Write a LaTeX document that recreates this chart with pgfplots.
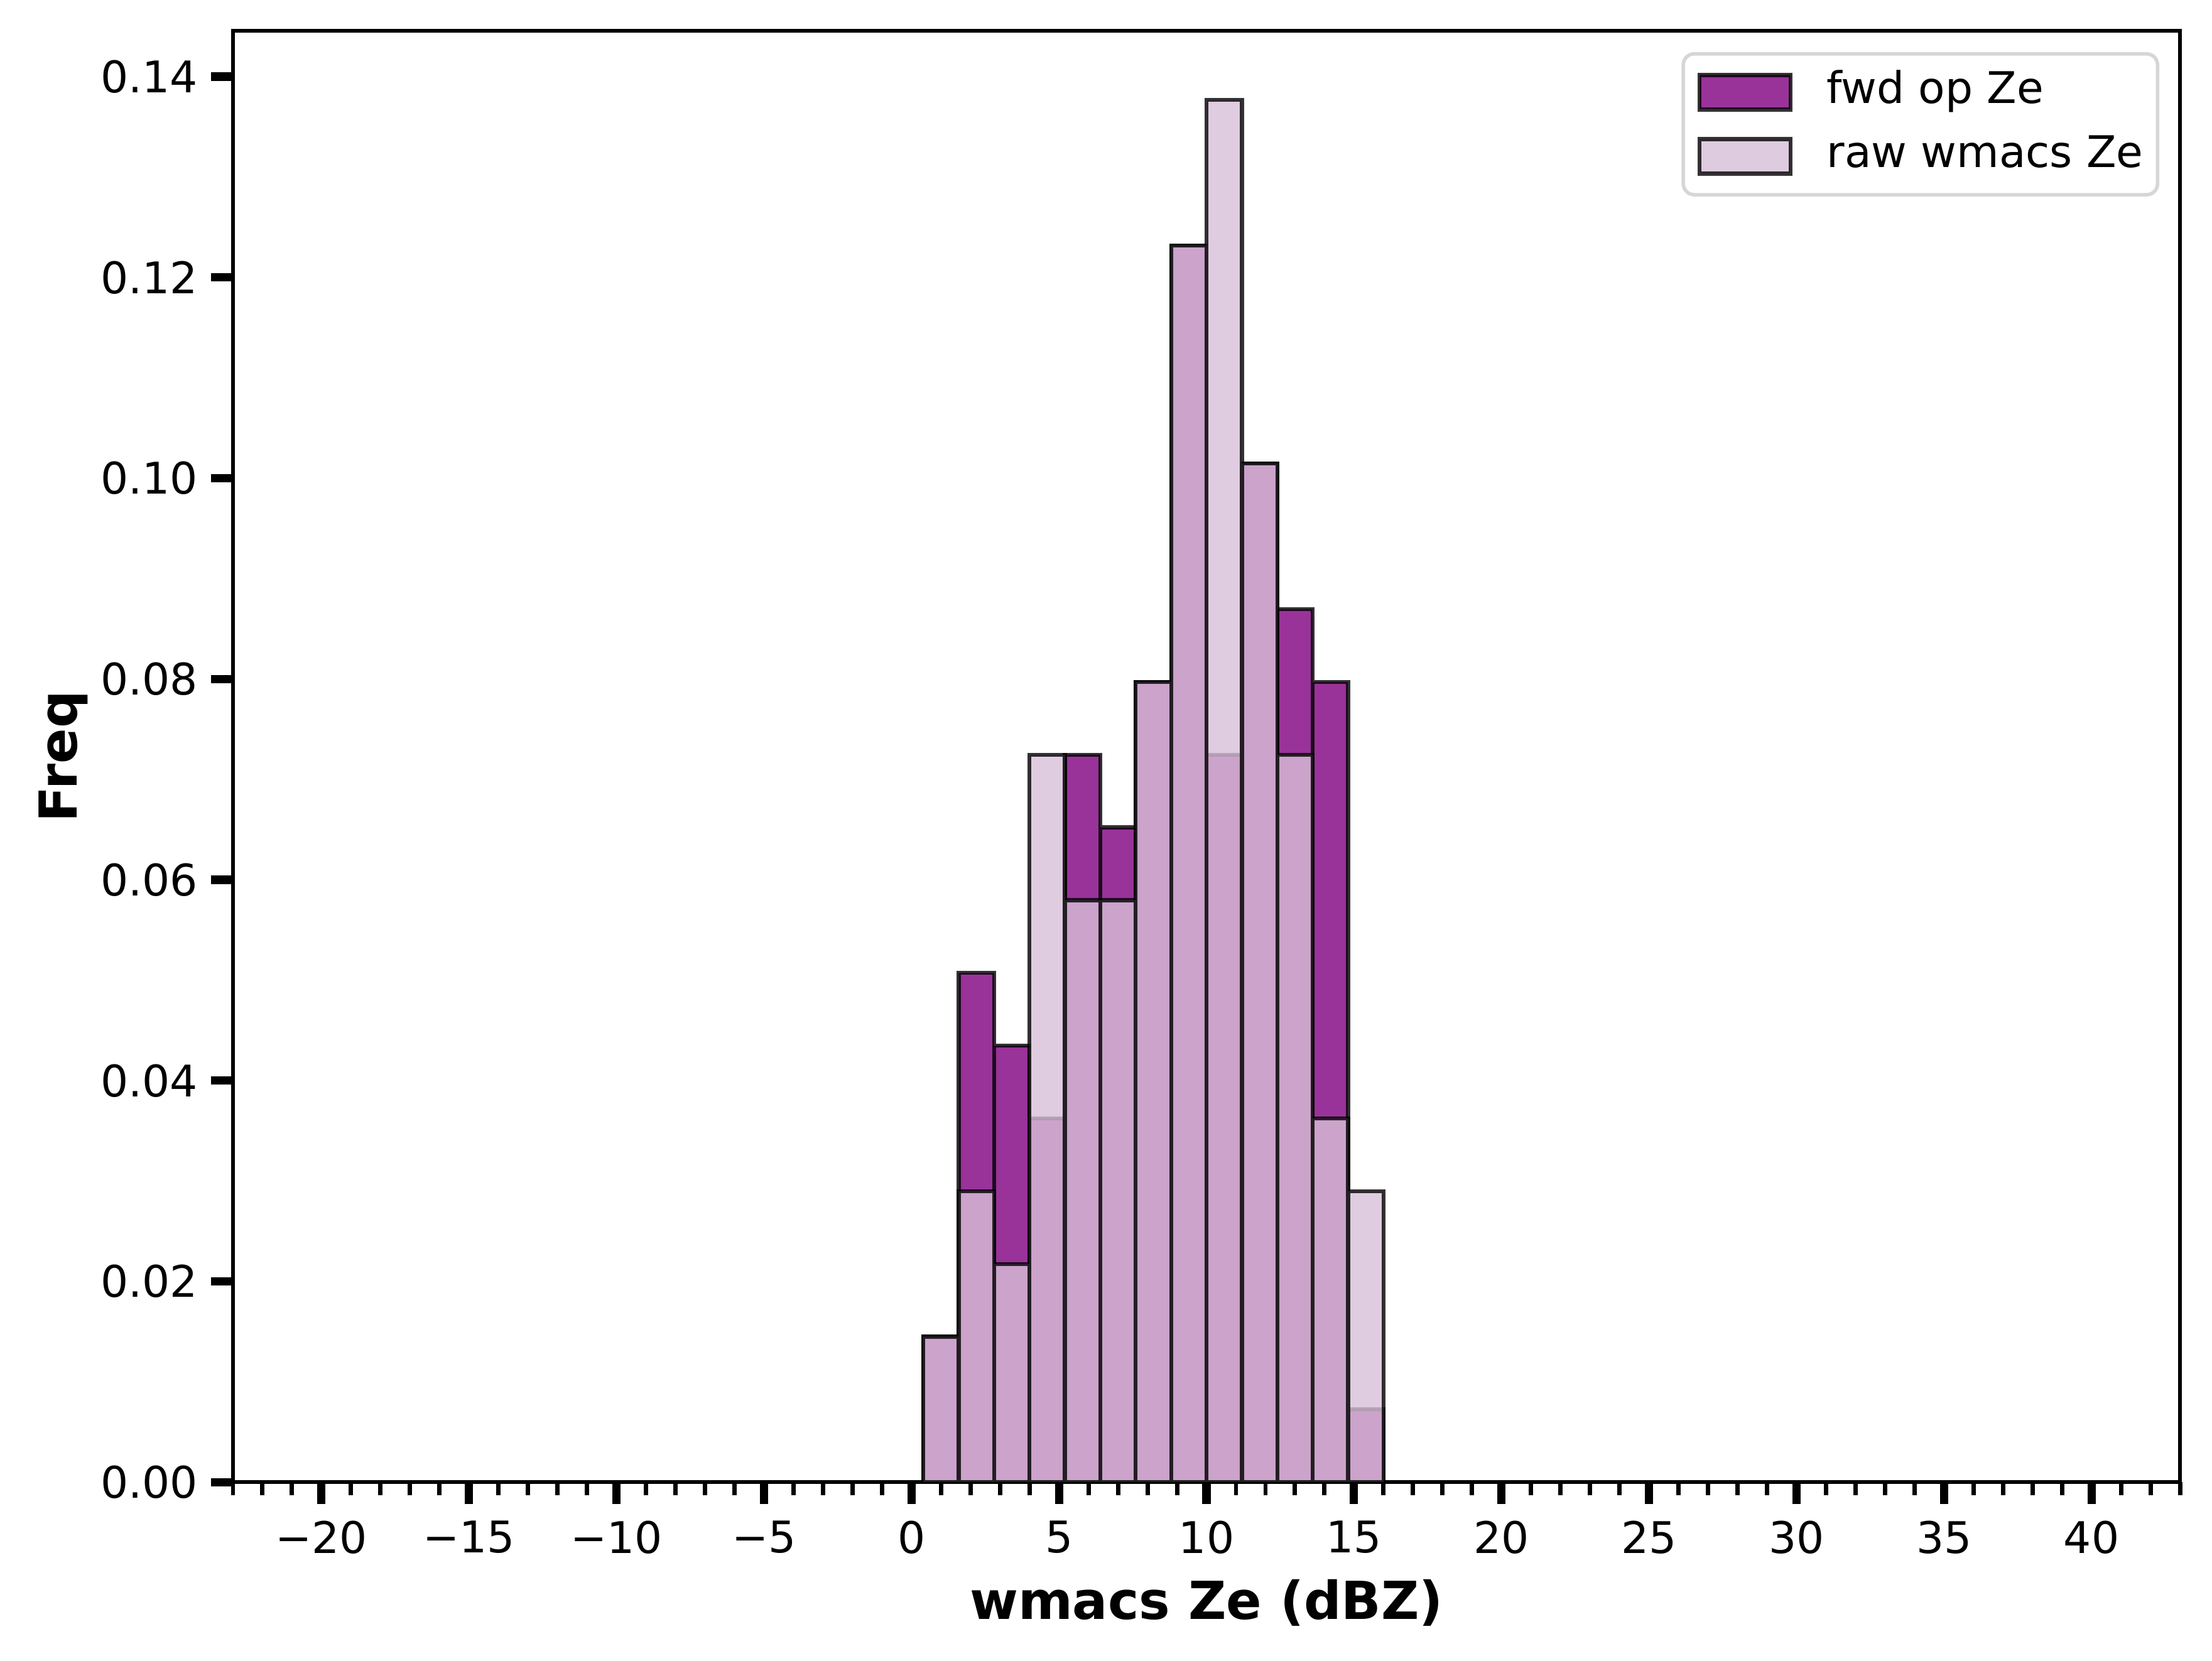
\documentclass[border=0pt]{standalone}
\usepackage{fontspec}
\setmainfont{DejaVu Sans}
\usepackage{pgfplots}
\pgfplotsset{compat=1.18}
\definecolor{fwdc}{RGB}{128,0,128}
\definecolor{rawc}{RGB}{216,191,216}
\definecolor{legframe}{RGB}{214,214,214}
\pgfplotsset{
  patchlegend/.style={legend image code/.code={\draw[##1, sharp corners] (0pt,-3.96pt) rectangle (20.9pt,3.96pt);}},
}

\begin{document}
\begin{tikzpicture}
\begin{axis}[
  name=ax,
  scale only axis,
  width=446.4pt, height=332.8pt,
  xmin=-23, xmax=43, ymin=0, ymax=0.1445652,
  axis line style={line width=0.8pt},
  tick align=outside,
  xtick pos=bottom, ytick pos=left,
  xtick={-20,-15,-10,-5,0,5,10,15,20,25,30,35,40},
  xticklabels={−20,−15,−10,−5,0,5,10,15,20,25,30,35,40},
  minor xtick={-23,-22,...,43},
  ytick={0,0.02,0.04,0.06,0.08,0.10,0.12,0.14},
  yticklabels={0.00,0.02,0.04,0.06,0.08,0.10,0.12,0.14},
  major tick length=5pt,
  minor tick length=3pt,
  major tick style={line width=1.9pt, black},
  minor tick style={line width=1pt, black},
  tick label style={font=\fontsize{10}{12}\selectfont, inner sep=0pt, outer sep=0pt},
  xticklabel style={anchor=north},
  yticklabel style={anchor=east},
  xticklabel shift=3.9pt,
  yticklabel shift=3.1pt,
  xlabel={\textbf{wmacs Ze (dBZ)}},
  ylabel={\textbf{Freq}},
  label style={font=\fontsize{12}{14}\selectfont, inner sep=0pt},
  xlabel style={at={(axis description cs:0.5,-0.0943)}, anchor=base},
  ylabel style={at={(axis description cs:-0.0803,0.5)}, anchor=base},
  legend cell align=left,
  legend style={
    at={(0.98935,0.98529)}, anchor=north east,
    draw=legframe, line width=0.8pt, rounded corners=2.5pt, fill=white,
    font=\fontsize{10}{12}\selectfont,
    inner xsep=3.3pt, inner ysep=3.8pt,
    row sep=4.69pt,
    nodes={inner sep=0pt, text height=7.6pt, text depth=2.4pt},
    /tikz/every odd column/.append style={column sep=7.8pt},
  },
]
\addplot[ybar, bar width=1.2, bar shift=0pt, fill=fwdc, draw=black, opacity=0.8, line width=0.9pt, patchlegend]
coordinates {
(1.0,0.0144928) (2.2,0.0507246) (3.4,0.0434783) (4.6,0.0362319) (5.8,0.0724638)
(7.0,0.0652174) (8.2,0.0797101) (9.4,0.1231884) (10.6,0.0724638) (11.8,0.1014493)
(13.0,0.0869565) (14.2,0.0797101) (15.4,0.0072464)
};
\addlegendentry{fwd op Ze}
\addplot[ybar, bar width=1.2, bar shift=0pt, fill=rawc, draw=black, opacity=0.8, line width=0.9pt, patchlegend]
coordinates {
(1.0,0.0144928) (2.2,0.0289855) (3.4,0.0217391) (4.6,0.0724638) (5.8,0.0579710)
(7.0,0.0579710) (8.2,0.0797101) (9.4,0.1231884) (10.6,0.1376812) (11.8,0.1014493)
(13.0,0.0724638) (14.2,0.0362319) (15.4,0.0289855)
};
\addlegendentry{raw wmacs Ze}
\end{axis}
\pgfresetboundingbox
\path ([xshift=-53.42pt,yshift=-40.9pt]ax.south west) rectangle ([xshift=7.34pt,yshift=7.06pt]ax.north east);
\end{tikzpicture}
\end{document}
